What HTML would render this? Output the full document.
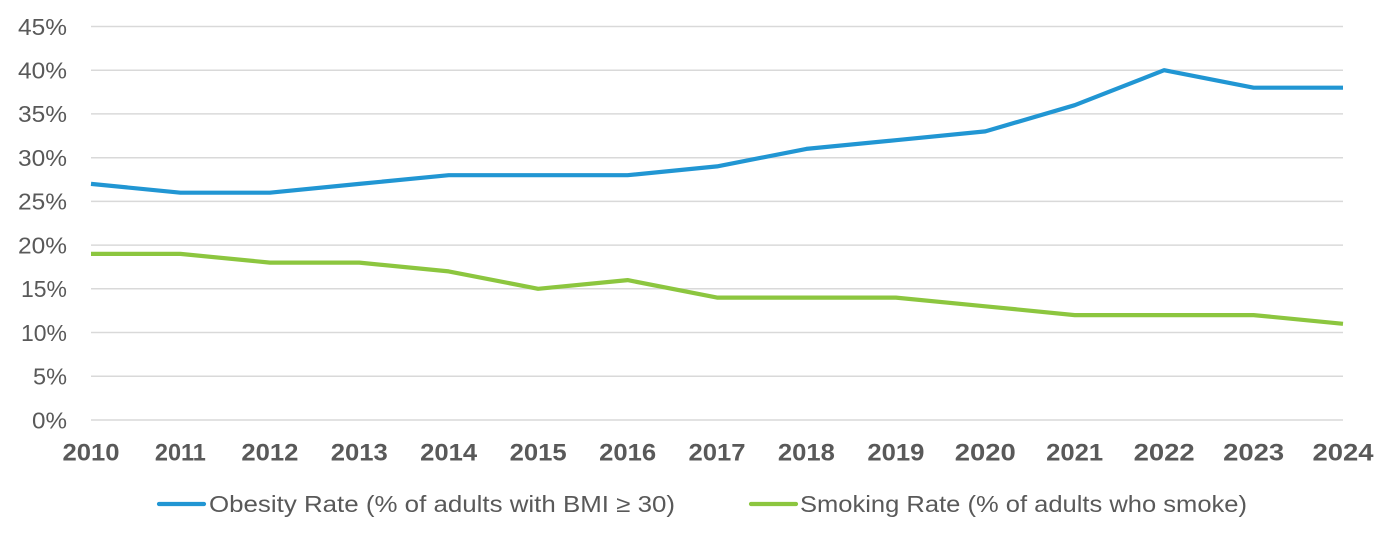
<!DOCTYPE html>
<html><head><meta charset="utf-8"><style>
html,body{margin:0;padding:0;background:#fff;}
svg{display:block;}
text{font-family:"Liberation Sans",sans-serif;fill:#595959;}
</style></head><body>
<svg width="1400" height="541" viewBox="0 0 1400 541" xmlns="http://www.w3.org/2000/svg">
<g stroke="#d9d9d9" stroke-width="1.5">
<line x1="91" y1="26.5" x2="1343" y2="26.5"/>
<line x1="91" y1="70.2" x2="1343" y2="70.2"/>
<line x1="91" y1="113.9" x2="1343" y2="113.9"/>
<line x1="91" y1="157.7" x2="1343" y2="157.7"/>
<line x1="91" y1="201.4" x2="1343" y2="201.4"/>
<line x1="91" y1="245.1" x2="1343" y2="245.1"/>
<line x1="91" y1="288.8" x2="1343" y2="288.8"/>
<line x1="91" y1="332.5" x2="1343" y2="332.5"/>
<line x1="91" y1="376.3" x2="1343" y2="376.3"/>
<line x1="91" y1="420" x2="1343" y2="420"/>
</g>
<g font-size="23" text-anchor="end">
<text x="67" y="34.8" textLength="49" lengthAdjust="spacingAndGlyphs">45%</text>
<text x="67" y="78.5" textLength="49" lengthAdjust="spacingAndGlyphs">40%</text>
<text x="67" y="122.2" textLength="49" lengthAdjust="spacingAndGlyphs">35%</text>
<text x="67" y="166" textLength="49" lengthAdjust="spacingAndGlyphs">30%</text>
<text x="67" y="209.7" textLength="49" lengthAdjust="spacingAndGlyphs">25%</text>
<text x="67" y="253.4" textLength="49" lengthAdjust="spacingAndGlyphs">20%</text>
<text x="67" y="297.1" textLength="46" lengthAdjust="spacingAndGlyphs">15%</text>
<text x="67" y="340.8" textLength="46" lengthAdjust="spacingAndGlyphs">10%</text>
<text x="67" y="384.6" textLength="34" lengthAdjust="spacingAndGlyphs">5%</text>
<text x="67" y="428.3" textLength="35" lengthAdjust="spacingAndGlyphs">0%</text>
</g>
<g font-size="24" font-weight="bold" text-anchor="middle">
<text x="91" y="460.5" textLength="57" lengthAdjust="spacingAndGlyphs">2010</text>
<text x="180.4" y="460.5" textLength="51" lengthAdjust="spacingAndGlyphs">2011</text>
<text x="269.9" y="460.5" textLength="57" lengthAdjust="spacingAndGlyphs">2012</text>
<text x="359.3" y="460.5" textLength="57" lengthAdjust="spacingAndGlyphs">2013</text>
<text x="448.7" y="460.5" textLength="57" lengthAdjust="spacingAndGlyphs">2014</text>
<text x="538.1" y="460.5" textLength="57" lengthAdjust="spacingAndGlyphs">2015</text>
<text x="627.6" y="460.5" textLength="57" lengthAdjust="spacingAndGlyphs">2016</text>
<text x="717" y="460.5" textLength="57" lengthAdjust="spacingAndGlyphs">2017</text>
<text x="806.4" y="460.5" textLength="57" lengthAdjust="spacingAndGlyphs">2018</text>
<text x="895.9" y="460.5" textLength="57" lengthAdjust="spacingAndGlyphs">2019</text>
<text x="985.3" y="460.5" textLength="61" lengthAdjust="spacingAndGlyphs">2020</text>
<text x="1074.7" y="460.5" textLength="57" lengthAdjust="spacingAndGlyphs">2021</text>
<text x="1164.1" y="460.5" textLength="61" lengthAdjust="spacingAndGlyphs">2022</text>
<text x="1253.6" y="460.5" textLength="61" lengthAdjust="spacingAndGlyphs">2023</text>
<text x="1343" y="460.5" textLength="61" lengthAdjust="spacingAndGlyphs">2024</text>
</g>
<polyline fill="none" stroke="#2196d3" stroke-width="4.2" stroke-linejoin="round"
points="91,183.9 180.4,192.7 269.9,192.7 359.3,183.9 448.7,175.2 538.1,175.2 627.6,175.2 717,166.4 806.4,148.9 895.9,140.2 985.3,131.4 1074.7,105.2 1164.1,70.2 1253.6,87.7 1343,87.7"/>
<polyline fill="none" stroke="#8cc63f" stroke-width="4.2" stroke-linejoin="round"
points="91,253.9 180.4,253.9 269.9,262.6 359.3,262.6 448.7,271.4 538.1,288.8 627.6,280.1 717,297.6 806.4,297.6 895.9,297.6 985.3,306.3 1074.7,315.1 1164.1,315.1 1253.6,315.1 1343,323.8"/>
<line x1="159" y1="504" x2="204" y2="504" stroke="#2196d3" stroke-width="4.2" stroke-linecap="round"/>
<text x="209" y="512" font-size="23" textLength="466" lengthAdjust="spacingAndGlyphs">Obesity Rate (% of adults with BMI ≥ 30)</text>
<line x1="751" y1="504" x2="796" y2="504" stroke="#8cc63f" stroke-width="4.2" stroke-linecap="round"/>
<text x="800" y="512" font-size="23" textLength="447" lengthAdjust="spacingAndGlyphs">Smoking Rate (% of adults who smoke)</text>
</svg>
</body></html>
